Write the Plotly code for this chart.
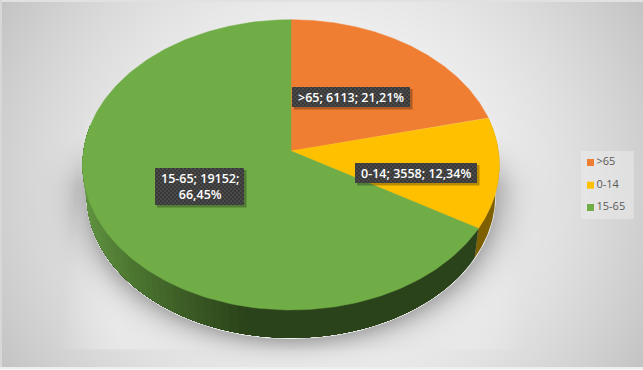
import numpy as np
import plotly.graph_objects as go

categories = [">65", "0-14", "15-65"]
values = [6113, 3558, 19152]
colors = ["#F07E32", "#FFC000", "#70AD47"]

W, H = 643, 370
CX, CY, A, B, K = 291.0, 151.0, 207.5, 143.8, 0.0954
DEPTH, SHRINK = 31.0, 0.98


def project(theta, bottom=False):
    u, v = np.sin(theta), np.cos(theta)
    s = SHRINK if bottom else 1.0
    d = DEPTH if bottom else 0.0
    return CX + s * A * u / (1 + K * v), CY + d - s * B * v / (1 + K * v)


# background picture (gradient, pale plate and soft shadow)
yy, xx = np.mgrid[0:H, 0:W]
dx = (xx - W / 2) / (W / 2)
dy = (yy - H / 2) / (H / 2)
bg = 247 - 52 * (0.75 * dx**2 + 0.25 * dy**2)
left = 82 - (yy - 130) * 12 / 110
right = 497 + (yy - 120) * 16 / 130
soft = 10 + np.clip(yy - 220, 0, 150) * 0.45
plate = (
    np.clip((xx - left) / soft, 0, 1)
    * np.clip((right - xx) / soft, 0, 1)
    * np.clip((349.5 - yy), 0, 1)
    * np.clip((yy - 110) / 50, 0, 1)
)
plate_tone = 243 - np.clip(yy - 120, 0, 230) * 0.045
bg = bg * (1 - plate) + plate_tone * plate
rho = np.sqrt(((xx - CX) / (A * SHRINK)) ** 2 + ((yy - 196) / 142.0) ** 2)
dist = np.maximum(rho - 1, 0) * 150
shade = np.exp(-((dist / 13) ** 1.3)) * np.clip((yy - 135) / 50, 0, 1)
bg = bg - 62 * shade
bg[:2, :] = 225
bg[:, :2] = 215
bg[-3:, :] = 238
bg[-1, :] = 250
bg = np.clip(bg, 0, 255).astype(np.uint8)

GRAY = [[0, "#000000"], [1, "#ffffff"]]
fig = go.Figure()
fig.add_trace(
    go.Heatmap(z=bg, x=np.arange(W) + 0.5, y=np.arange(H) + 0.5, colorscale=GRAY,
               zmin=0, zmax=255, showscale=False, hoverinfo="skip")
)

total = sum(values)
edges = np.concatenate([[0], np.cumsum(values)]) / total * 2 * np.pi
WALL_END = np.deg2rad(280)


def green_side(x):
    t = np.clip((x - 85) / 165, 0, 1)
    c0 = np.array([98, 150, 64])
    c1 = np.array([43, 67, 26])
    c = c0 + (c1 - c0) * t**0.8
    return "rgb(%d,%d,%d)" % tuple(c)


def wall(a, b, col):
    seg = np.linspace(a, b, 160)
    xt, yt = project(seg)
    xb, yb = project(seg[::-1], True)
    fig.add_trace(
        go.Scatter(x=np.concatenate([xt, xb]), y=np.concatenate([yt, yb]), mode="lines",
                   fill="toself", fillcolor=col, line=dict(color=col, width=0),
                   showlegend=False, hoverinfo="skip")
    )


def box(x0, y0, x1, y1, col):
    fig.add_trace(
        go.Scatter(x=[x0, x1, x1, x0, x0], y=[y0, y0, y1, y1, y0], mode="lines",
                   fill="toself", fillcolor=col, line=dict(width=0),
                   showlegend=False, hoverinfo="skip")
    )


# lower outline highlight
th = np.linspace(np.deg2rad(70), WALL_END, 300)
ox, oy = project(th, True)
fig.add_trace(
    go.Scatter(x=ox, y=oy + 0.7, mode="lines", line=dict(color="#f2f2f2", width=1.1),
               showlegend=False, hoverinfo="skip")
)

# side wall: yellow part, then green part painted over itself band by band
wall(edges[1], edges[2], "#7F6000")
for a in np.linspace(edges[2], WALL_END, 70, endpoint=False):
    wall(a, WALL_END, green_side(project(a)[0]))

# top face
for i in range(3):
    seg = np.linspace(edges[i], edges[i + 1], 200)
    xt, yt = project(seg)
    xs = np.concatenate([[CX], xt, [CX]])
    ys = np.concatenate([[CY], yt, [CY]])
    fig.add_trace(
        go.Scatter(x=xs, y=ys, mode="lines", fill="toself", fillcolor=colors[i],
                   line=dict(color=colors[i], width=0.5), showlegend=False, hoverinfo="skip")
    )

# legend panel and key
box(581, 151, 634, 219, "rgba(240,240,240,0.45)")
key_y = [162.5, 185.2, 207.5]
fig.add_trace(
    go.Scatter(x=[590.5] * 3, y=key_y, mode="markers",
               marker=dict(symbol="square", size=7, color=colors),
               showlegend=False, hoverinfo="skip")
)
fig.add_trace(
    go.Scatter(x=[596.5] * 3, y=key_y, mode="text", text=categories,
               textposition="middle right",
               textfont=dict(family="Open Sans", size=11, color="#595959"),
               showlegend=False, hoverinfo="skip")
)

# data labels: soft shadow on the base axes, hatched plate on an overlaid axis pair
pcts = [f"{100 * v / total:.2f}".replace(".", ",") + "%" for v in values]
label_text = [
    f"{categories[0]}; {values[0]}; {pcts[0]}",
    f"{categories[1]}; {values[1]}; {pcts[1]}",
    f"{categories[2]}; {values[2]};<br>{pcts[2]}",
]
boxes = [(292, 87, 410, 107), (355, 163, 477, 183), (155, 168, 244, 205)]
annotations = []
for text, (x0, y0, x1, y1) in zip(label_text, boxes):
    box(x0 + 2, y0 + 2, x1 + 2.5, y1 + 2.5, "rgba(0,0,0,0.28)")
    gy, gx = np.mgrid[y0:y1, x0:x1]
    check = (((gx // 2) + (gy // 2)) % 2 * 18 + 56).astype(np.uint8)
    fig.add_trace(
        go.Heatmap(z=check, x=np.arange(x0, x1) + 0.5, y=np.arange(y0, y1) + 0.5,
                   xaxis="x2", yaxis="y2", colorscale=GRAY, zmin=0, zmax=255,
                   showscale=False, hoverinfo="skip")
    )
    annotations.append(dict(x=(x0 + x1) / 2, y=(y0 + y1) / 2, text=text, showarrow=False,
                            font=dict(family="Open Sans", size=12.5, color="white", weight=600),
                            align="center"))

fig.update_layout(
    width=W,
    height=H,
    autosize=False,
    margin=dict(l=0, r=0, t=0, b=0),
    paper_bgcolor="#e0e0e0",
    plot_bgcolor="#e0e0e0",
    xaxis=dict(range=[0, W], visible=False, fixedrange=True),
    yaxis=dict(range=[H, 0], visible=False, fixedrange=True),
    xaxis2=dict(range=[0, W], visible=False, fixedrange=True, overlaying="x"),
    yaxis2=dict(range=[H, 0], visible=False, fixedrange=True, overlaying="y"),
    annotations=annotations,
    showlegend=False,
)
fig.write_html(
    "out.html",
    config=dict(displayModeBar=False),
    post_script="document.body.style.margin='0';document.body.style.overflow='hidden';",
)
